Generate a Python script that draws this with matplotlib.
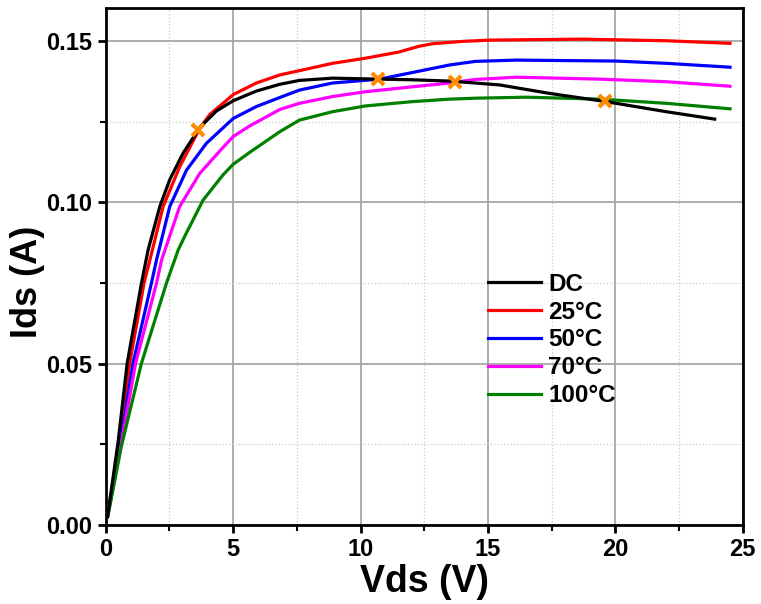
import numpy as np
import matplotlib
matplotlib.use('Agg')
import matplotlib.pyplot as plt

plt.rcParams['font.family'] = ['Liberation Sans', 'DejaVu Sans']
plt.rcParams['font.weight'] = 'bold'

# DC curve
v_dc = [0.07, 0.48, 0.84, 1.4, 1.66, 2.12, 2.51, 3.03, 3.69, 4.34, 5.0, 5.91, 6.83, 7.6, 8.9,
        10.75, 12.0, 13.5, 15.46, 17.4, 19.65, 22.0, 23.9]
i_dc = [0.0026, 0.0255, 0.0501, 0.0749, 0.0852, 0.0987, 0.107, 0.1152, 0.1232, 0.1283, 0.1315,
        0.1345, 0.1366, 0.1378, 0.1385, 0.1382, 0.138, 0.1376, 0.1364, 0.1338, 0.1312, 0.1281, 0.1258]

# 25C
v_25 = [0.07, 0.5, 0.94, 1.5, 1.73, 2.25, 2.9, 3.69, 4.08, 5.0, 5.91, 6.83, 8.9, 10.2, 11.5,
        12.3, 12.85, 14.0, 15.07, 18.7, 22.0, 24.5]
i_25 = [0.0026, 0.024, 0.0501, 0.0749, 0.0821, 0.0987, 0.111, 0.123, 0.1272, 0.1334, 0.137,
        0.1395, 0.1431, 0.1447, 0.1466, 0.1484, 0.1492, 0.1499, 0.1503, 0.1506, 0.1501, 0.1493]

# 50C
v_50 = [0.07, 0.55, 1.07, 1.79, 1.99, 2.51, 3.17, 3.95, 5.0, 5.91, 6.83, 7.6, 8.9, 10.75,
        12.0, 13.5, 14.5, 16.1, 20.05, 22.0, 24.5]
i_50 = [0.0026, 0.024, 0.0501, 0.0749, 0.0821, 0.0987, 0.11, 0.1183, 0.126, 0.1297, 0.1325,
        0.1348, 0.137, 0.1382, 0.1402, 0.1426, 0.1437, 0.1441, 0.1438, 0.1431, 0.1419]

# 70C
v_70 = [0.07, 0.58, 1.17, 1.99, 2.19, 2.9, 3.69, 4.6, 5.0, 5.65, 6.3, 6.83, 7.6, 8.9, 10.2,
        12.0, 13.5, 14.5, 16.1, 19.4, 22.0, 24.5]
i_70 = [0.0026, 0.024, 0.0501, 0.0749, 0.0821, 0.0987, 0.109, 0.117, 0.1204, 0.1237, 0.1265,
        0.1288, 0.1307, 0.1328, 0.1343, 0.1358, 0.137, 0.1381, 0.1388, 0.1382, 0.1374, 0.136]

# 100C
v_100 = [0.08, 0.61, 1.4, 2.38, 2.84, 3.1, 3.82, 4.6, 5.0, 5.65, 6.83, 7.6, 8.9, 10.2, 12.0,
         13.5, 14.55, 16.5, 19.4, 22.0, 24.5]
i_100 = [0.0026, 0.0243, 0.0501, 0.0749, 0.0852, 0.0895, 0.1007, 0.1085, 0.1118, 0.1155, 0.1219,
         0.1255, 0.1281, 0.1299, 0.1312, 0.132, 0.1323, 0.1326, 0.132, 0.1307, 0.129]

# crossing markers
v_x = [3.6, 10.7, 13.7, 19.6]
i_x = [0.1224, 0.1383, 0.1374, 0.1313]

fig = plt.figure(figsize=(7.61, 6.04), dpi=100)
ax = fig.add_axes([0.139, 0.131, 0.837, 0.856])

lw = 2.3
ax.plot(v_dc, i_dc, color='black', lw=lw, label='DC', zorder=5)
ax.plot(v_25, i_25, color='red', lw=lw, label='25°C', zorder=4)
ax.plot(v_50, i_50, color='blue', lw=lw, label='50°C', zorder=4)
ax.plot(v_70, i_70, color='magenta', lw=lw, label='70°C', zorder=4)
ax.plot(v_100, i_100, color='green', lw=lw, label='100°C', zorder=4)
ax.plot(v_x, i_x, 'x', color='#ff8c00', ms=8, mew=3, zorder=6)

ax.set_xlim(0, 25)
ax.set_ylim(0, 0.1603)
ax.set_xticks([0, 5, 10, 15, 20, 25])
ax.set_yticks([0.0, 0.05, 0.10, 0.15])
ax.set_yticklabels(['0.00', '0.05', '0.10', '0.15'])
ax.set_xticks(np.arange(2.5, 25, 5), minor=True)
ax.set_yticks([0.025, 0.075, 0.125], minor=True)

ax.grid(which='major', color='#a0a0a0', lw=1.2)
ax.grid(which='minor', color='#cccccc', lw=0.9, ls=':')
ax.set_axisbelow(True)

for s in ax.spines.values():
    s.set_linewidth(2)
ax.tick_params(which='major', direction='out', length=6, width=2, labelsize=17)
ax.tick_params(which='minor', direction='out', length=4, width=1.5)
for lab in ax.get_xticklabels() + ax.get_yticklabels():
    lab.set_fontweight('bold')

ax.set_xlabel('Vds (V)', fontsize=27, fontweight='bold', labelpad=2)
ax.set_ylabel('Ids (A)', fontsize=26, fontweight='bold')
ax.yaxis.set_label_coords(-0.095, 0.47)

leg = ax.legend(loc='upper left', bbox_to_anchor=(0.565, 0.53), frameon=False,
                prop={'size': 17.5, 'weight': 'bold'}, handlelength=2.2,
                labelspacing=0.2, handletextpad=0.3)

fig.savefig('out.png', dpi=100)
